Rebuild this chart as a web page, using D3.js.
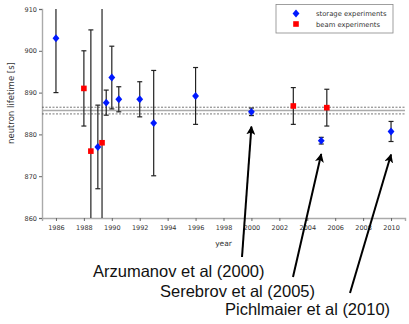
<!DOCTYPE html>
<html>
<head>
<meta charset="utf-8">
<script src="https://cdn.jsdelivr.net/npm/d3@7"></script>
<style>
  body { margin: 0; background: #fff; }
  svg { display: block; }
  .tick text { font-family: "DejaVu Sans", sans-serif; font-size: 6.5px; fill: #333; }
</style>
</head>
<body>
<svg id="chart"></svg>
<script>
// storage experiments (blue diamonds)
var storageYear = [1986, 1989.0, 1989.6, 1990.0, 1990.5, 1992, 1993, 1996, 2000, 2005, 2010];
var storageVal = [903, 877, 887.6, 893.6, 888.4, 888.4, 882.7, 889.2, 885.4, 878.5, 880.7];
var storageErr = [13, 10, 3, 7.5, 3, 4.2, 12.6, 6.8, 0.9, 0.8, 2.4];

// beam experiments (red squares)
var beamYear = [1988, 1988.5, 1989.3, 2003, 2005.4];
var beamVal = [891, 876, 878, 886.8, 886.4];
var beamErr = [9, 29, 35, 4.4, 4.4];

// world average band
var avgVal = 885.7;
var avgErr = 0.8;

var xTicks = [1986, 1988, 1990, 1992, 1994, 1996, 1998, 2000, 2002, 2004, 2006, 2008, 2010];
var yTicks = [860, 870, 880, 890, 900, 910];

// annotations pointing at three storage results
var noteLabels = ["Arzumanov et al (2000)", "Serebrov et al (2005)", "Pichlmaier et al (2010)"];
var noteYear = [2000, 2005, 2010];

var W = 409, H = 324;
var margin = { top: 9, right: 4, bottom: 106, left: 42 };
var width = W - margin.left - margin.right,
  height = H - margin.top - margin.bottom;

var svg = d3.select("#chart").attr("width", W).attr("height", H);

var x = d3.scaleLinear().domain([1985, 2011]).range([0, width]);
var y = d3.scaleLinear().domain([860, 910]).range([height, 0]);

svg.append("defs").append("clipPath").attr("id", "plotclip")
  .append("rect").attr("x", 0).attr("y", 0).attr("width", width).attr("height", height);

var defs = svg.select("defs");
defs.append("marker")
  .attr("id", "head")
  .attr("viewBox", "0 0 10 10")
  .attr("refX", 9).attr("refY", 5)
  .attr("markerWidth", 4.5).attr("markerHeight", 4.5)
  .attr("markerUnits", "strokeWidth")
  .attr("orient", "auto")
  .append("path").attr("d", "M0,0L10,5L0,10L2.5,5Z").attr("fill", "#000");

var g = svg.append("g").attr("transform", "translate(" + margin.left + "," + margin.top + ")");

// axes
var xAxis = g.append("g")
  .attr("transform", "translate(0," + height + ")")
  .call(d3.axisBottom(x).tickValues(xTicks).tickFormat(d3.format("d")).tickSize(3).tickPadding(4));
var yAxis = g.append("g")
  .call(d3.axisLeft(y).tickValues(yTicks).tickSize(3).tickPadding(2));

[xAxis, yAxis].forEach(function(a) {
  a.select(".domain").attr("stroke", "#aaa").attr("stroke-width", 1.4);
  a.selectAll(".tick line").attr("stroke", "#666");
});

// axis labels
g.append("text")
  .attr("x", width / 2)
  .attr("y", height + 28)
  .attr("text-anchor", "middle")
  .attr("font-family", "DejaVu Sans, sans-serif")
  .attr("font-size", 7.5)
  .attr("fill", "#333")
  .text("year");

svg.append("text")
  .attr("transform", "translate(14," + (margin.top + y(887.5)) + ") rotate(-90)")
  .attr("text-anchor", "middle")
  .attr("font-family", "DejaVu Sans, sans-serif")
  .attr("font-size", 8.5)
  .attr("fill", "#333")
  .text("neutron lifetime [s]");

var plot = g.append("g").attr("clip-path", "url(#plotclip)");

// average lines
plot.append("line")
  .attr("x1", 0).attr("x2", width)
  .attr("y1", y(avgVal)).attr("y2", y(avgVal))
  .attr("stroke", "#aaa").attr("stroke-width", 1.5);
[avgVal + avgErr, avgVal - avgErr].forEach(function(v) {
  plot.append("line")
    .attr("x1", 0).attr("x2", width)
    .attr("y1", y(v)).attr("y2", y(v))
    .attr("stroke", "#555").attr("stroke-width", 0.8)
    .attr("stroke-dasharray", "2,1.5");
});

function errorBars(years, vals, errs) {
  var data = years.map(function(d, i) { return { x: d, v: vals[i], e: errs[i] }; });
  var eb = plot.append("g").selectAll("g").data(data).enter().append("g")
    .attr("stroke", "#222").attr("stroke-width", 1.2);
  eb.append("line")
    .attr("x1", function(d) { return x(d.x); })
    .attr("x2", function(d) { return x(d.x); })
    .attr("y1", function(d) { return y(d.v - d.e); })
    .attr("y2", function(d) { return y(d.v + d.e); });
  [-1, 1].forEach(function(s) {
    eb.append("line")
      .attr("x1", function(d) { return x(d.x) - 2.5; })
      .attr("x2", function(d) { return x(d.x) + 2.5; })
      .attr("y1", function(d) { return y(d.v + s * d.e); })
      .attr("y2", function(d) { return y(d.v + s * d.e); });
  });
  return data;
}

var sData = errorBars(storageYear, storageVal, storageErr);
var bData = errorBars(beamYear, beamVal, beamErr);

// a slightly fatter diamond than d3's default
var diamond = d3.symbol().type(d3.symbolDiamond).size(18);

plot.selectAll("path.storage").data(sData).enter().append("path")
  .attr("class", "storage")
  .attr("d", diamond)
  .attr("transform", function(d) { return "translate(" + x(d.x) + "," + y(d.v) + ") scale(1.5,1)"; })
  .attr("fill", "#0019ff");

plot.selectAll("rect.beam").data(bData).enter().append("rect")
  .attr("class", "beam")
  .attr("x", function(d) { return x(d.x) - 2.8; })
  .attr("y", function(d) { return y(d.v) - 2.8; })
  .attr("width", 5.6).attr("height", 5.6)
  .attr("fill", "#ff0000");

// legend
var lg = svg.append("g").attr("transform", "translate(276,4.5)");
lg.append("rect").attr("width", 117).attr("height", 28.5)
  .attr("fill", "#fff").attr("stroke", "#888").attr("stroke-width", 0.8);
lg.append("path").attr("d", diamond).attr("transform", "translate(20,9) scale(1.5,1)").attr("fill", "#0019ff");
lg.append("rect").attr("x", 17.2).attr("y", 16.7).attr("width", 5.6).attr("height", 5.6).attr("fill", "#ff0000");
lg.selectAll("text").data(["storage experiments", "beam experiments"]).enter().append("text")
  .attr("x", 40)
  .attr("y", function(d, i) { return 11.5 + i * 10.7; })
  .attr("font-family", "DejaVu Sans, sans-serif")
  .attr("font-size", 6.8)
  .attr("fill", "#333")
  .text(function(d) { return d; });

// annotations
var noteTextX = [93, 160, 225];
var noteTextY = [277, 297, 315];
var noteTail = [[242, 257], [293, 277], [350, 293]];
var noteGap = [11, 10, 13];

noteLabels.forEach(function(label, i) {
  var k = storageYear.indexOf(noteYear[i]);
  var tipX = margin.left + x(noteYear[i]);
  var tipY = margin.top + y(storageVal[k] - storageErr[k]) + noteGap[i];
  svg.append("line")
    .attr("x1", noteTail[i][0]).attr("y1", noteTail[i][1])
    .attr("x2", tipX).attr("y2", tipY)
    .attr("stroke", "#000").attr("stroke-width", 2)
    .attr("marker-end", "url(#head)");
  svg.append("text")
    .attr("x", noteTextX[i]).attr("y", noteTextY[i])
    .attr("font-family", "Liberation Sans, Arial, sans-serif")
    .attr("font-size", 16.5)
    .attr("fill", "#111")
    .text(label);
});
</script>
</body>
</html>
